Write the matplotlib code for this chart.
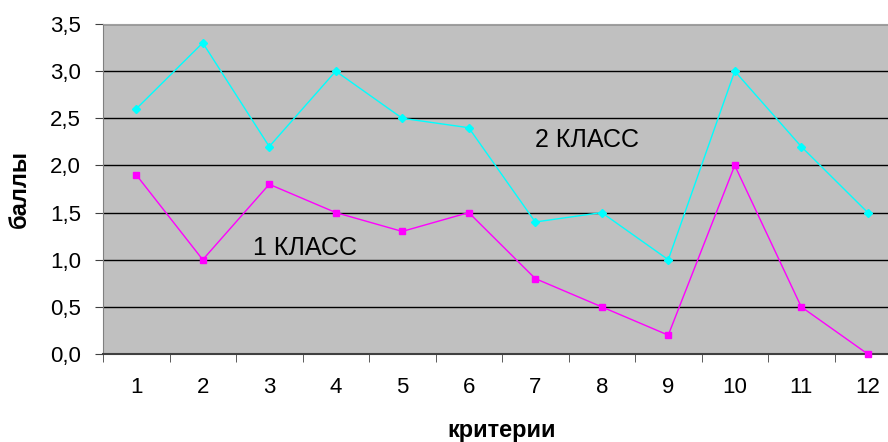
import matplotlib.pyplot as plt
from matplotlib.ticker import FixedLocator, FuncFormatter

plt.rcParams['font.family'] = ['Liberation Sans', 'DejaVu Sans']

# data
criteria = list(range(1, 13))
class_2 = [2.6, 3.3, 2.2, 3.0, 2.5, 2.4, 1.4, 1.5, 1.0, 3.0, 2.2, 1.5]
class_1 = [1.9, 1.0, 1.8, 1.5, 1.3, 1.5, 0.8, 0.5, 0.2, 2.0, 0.5, 0.0]
y_ticks = [0, 0.5, 1.0, 1.5, 2.0, 2.5, 3.0, 3.5]

fig = plt.figure(figsize=(8.88, 4.42), dpi=100)
# right side of the plot area runs past the picture edge, as in the original
ax = fig.add_axes([103 / 888, 1 - 354 / 442, 798 / 888, 330 / 442])
ax.set_facecolor('#c0c0c0')

for y in y_ticks[1:]:
    ax.axhline(y, color='black', lw=1, zorder=1)

ax.plot(criteria, class_2, color='#00ffff', lw=1, marker='D', markersize=4.5,
        zorder=3, clip_on=False)
ax.plot(criteria, class_1, color='#ff00ff', lw=1, marker='s', markersize=5,
        zorder=3, clip_on=False)

ax.text(7.0, 2.27, '2 КЛАСС', fontsize=18, va='center', ha='left', zorder=4)
ax.text(2.76, 1.12, '1 КЛАСС', fontsize=18, va='center', ha='left', zorder=4)

ax.set_xlim(0.5, 12.5)
ax.set_ylim(0, 3.5)

ax.xaxis.set_major_locator(FixedLocator(criteria))
ax.xaxis.set_minor_locator(FixedLocator([i + 0.5 for i in range(0, 13)]))
ax.tick_params(axis='x', which='major', length=0, pad=16.5, labelsize=16)
ax.tick_params(axis='x', which='minor', length=5.8, color='#404040', direction='out')
ax.set_yticks(y_ticks)
ax.yaxis.set_major_formatter(FuncFormatter(lambda v, p: f'{v:.1f}'.replace('.', ',')))
ax.tick_params(axis='y', length=5.8, color='#404040', labelsize=16, pad=10)

ax.spines['top'].set_color('#a0a0a0')
ax.spines['left'].set_color('#808080')
ax.spines['bottom'].set_color('#404040')
ax.spines['bottom'].set_linewidth(1.5)
ax.spines['right'].set_visible(False)

ax.set_xlabel('критерии', fontsize=17, fontweight='bold', va='center')
ax.set_ylabel('баллы', fontsize=17, fontweight='bold', va='center')
ax.xaxis.set_label_coords(0.5, -(431 - 354) / 330)
ax.yaxis.set_label_coords(-(103 - 19) / 798, 0.5)

fig.savefig('out.png', dpi=100)
